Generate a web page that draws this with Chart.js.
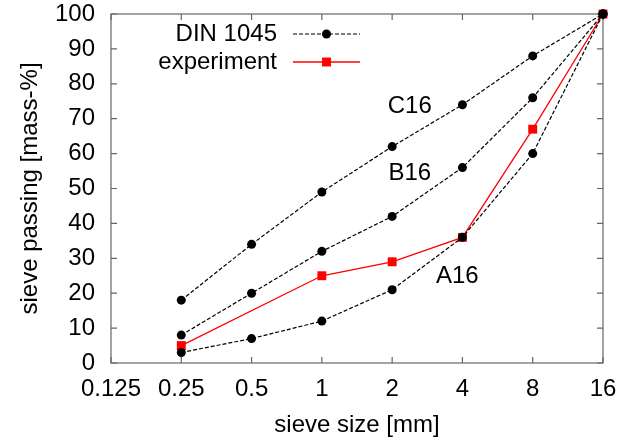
<!DOCTYPE html>
<html>
<head>
<meta charset="utf-8">
<script src="https://cdn.jsdelivr.net/npm/chart.js@4"></script>
<style>
  html, body { margin: 0; padding: 0; background: #fff; }
  #wrap { width: 630px; height: 444px; }
</style>
</head>
<body>
<div id="wrap"><canvas id="chart" width="630" height="444"></canvas></div>
<script>
const sieveSizes = [0.25, 0.5, 1, 2, 4, 8, 16];
const gradeA16 = [3, 7, 12, 21, 36, 60, 100];
const gradeB16 = [8, 20, 32, 42, 56, 76, 100];
const gradeC16 = [18, 34, 49, 62, 74, 88, 100];
const experiment = [5, null, 25, 29, 36, 67, 100];

const xTicks = [0.125, 0.25, 0.5, 1, 2, 4, 8, 16];
const xTickLabels = ["0.125", "0.25", "0.5", "1", "2", "4", "8", "16"];
const yTicks = [0, 10, 20, 30, 40, 50, 60, 70, 80, 90, 100];

const curveLabels = [
  { text: "C16", x: 2.38, y: 73.6 },
  { text: "B16", x: 2.38, y: 54.2 },
  { text: "A16", x: 3.8, y: 24.9 },
];

const FONT = "'Liberation Sans', Arial, sans-serif";
const FONT_SIZE = 24;
const black = "#000000";
const red = "#ff0000";

function points(values) {
  return sieveSizes.map((x, i) => ({ x, y: values[i] }));
}

const dinStyle = {
  borderColor: black,
  backgroundColor: black,
  borderWidth: 1.2,
  borderDash: [4, 2],
  pointStyle: "circle",
  pointRadius: 4.5,
  pointBorderWidth: 0,
  clip: false,
};

const datasets = [
  { label: "C16", data: points(gradeC16), ...dinStyle },
  { label: "B16", data: points(gradeB16), ...dinStyle },
  { label: "A16", data: points(gradeA16), ...dinStyle },
  {
    label: "experiment",
    data: points(experiment),
    borderColor: red,
    backgroundColor: red,
    borderWidth: 1.3,
    pointStyle: "rect",
    pointRadius: 6.3,
    pointBorderWidth: 0,
    spanGaps: true,
    clip: false,
  },
];

// frame with inward ticks on all sides, like the gnuplot original
const framePlugin = {
  id: "frame",
  beforeDatasetsDraw(chart) {
    const { ctx, chartArea: a, scales } = chart;
    ctx.save();
    ctx.strokeStyle = "#666666";
    ctx.lineWidth = 1.2;
    ctx.strokeRect(a.left, a.top, a.right - a.left, a.bottom - a.top);
    ctx.beginPath();
    const len = 6;
    xTicks.forEach((v) => {
      const px = scales.x.getPixelForValue(v);
      ctx.moveTo(px, a.bottom); ctx.lineTo(px, a.bottom - len);
      ctx.moveTo(px, a.top); ctx.lineTo(px, a.top + len);
    });
    yTicks.forEach((v) => {
      const py = scales.y.getPixelForValue(v);
      ctx.moveTo(a.left, py); ctx.lineTo(a.left + len, py);
      ctx.moveTo(a.right, py); ctx.lineTo(a.right - len, py);
    });
    ctx.stroke();
    ctx.restore();
  },
  afterDatasetsDraw(chart) {
    const { ctx, scales, chartArea: a } = chart;
    ctx.save();
    ctx.font = `${FONT_SIZE}px ${FONT}`;
    ctx.fillStyle = black;
    ctx.textAlign = "center";
    ctx.textBaseline = "middle";
    curveLabels.forEach((l) => {
      ctx.fillText(l.text, scales.x.getPixelForValue(l.x), scales.y.getPixelForValue(l.y));
    });

    // legend: text right-aligned, then line sample with marker
    const entries = [
      { text: "DIN 1045", ds: datasets[0] },
      { text: "experiment", ds: datasets[3] },
    ];
    const textRight = a.left + 166;
    const lineStart = a.left + 182;
    const lineEnd = a.left + 249;
    entries.forEach((e, i) => {
      const y = a.top + 20 + i * 28;
      ctx.textAlign = "right";
      ctx.fillStyle = black;
      ctx.fillText(e.text, textRight, y);
      ctx.strokeStyle = e.ds.borderColor;
      ctx.lineWidth = e.ds.borderWidth;
      ctx.setLineDash(e.ds.borderDash || []);
      ctx.beginPath();
      ctx.moveTo(lineStart, y);
      ctx.lineTo(lineEnd, y);
      ctx.stroke();
      ctx.setLineDash([]);
      ctx.fillStyle = e.ds.backgroundColor;
      const mx = (lineStart + lineEnd) / 2;
      if (e.ds.pointStyle === "rect") {
        const s = e.ds.pointRadius * Math.SQRT1_2;
        ctx.fillRect(mx - s, y - s, 2 * s, 2 * s);
      } else {
        ctx.beginPath();
        ctx.arc(mx, y, e.ds.pointRadius, 0, Math.PI * 2);
        ctx.fill();
      }
    });
    ctx.restore();
  },
};

new Chart(document.getElementById("chart"), {
  type: "line",
  data: { datasets },
  plugins: [framePlugin],
  options: {
    responsive: false,
    animation: false,
    layout: { padding: { top: 14, right: 27, left: 0, bottom: 0 } },
    plugins: { legend: { display: false }, tooltip: { enabled: false } },
    scales: {
      x: {
        type: "logarithmic",
        min: 0.125,
        max: 16,
        afterBuildTicks: (scale) => { scale.ticks = xTicks.map((value) => ({ value })); },
        afterFit: (scale) => {
          scale.height = 81;
          scale.paddingLeft = 0;
          scale.paddingRight = 0;
        },
        grid: { display: false, drawTicks: false },
        border: { display: false },
        ticks: {
          autoSkip: false,
          maxRotation: 0,
          padding: 12,
          color: black,
          font: { family: FONT, size: FONT_SIZE },
          callback: (value, index) => xTickLabels[index],
        },
        title: {
          display: true,
          text: "sieve size [mm]",
          color: black,
          font: { family: FONT, size: FONT_SIZE },
          padding: { top: 0, bottom: 4 },
        },
      },
      y: {
        min: 0,
        max: 100,
        afterBuildTicks: (scale) => { scale.ticks = yTicks.map((value) => ({ value })); },
        afterFit: (scale) => {
          scale.width = 111;
          scale.paddingTop = 0;
          scale.paddingBottom = 0;
        },
        grid: { display: false, drawTicks: false },
        border: { display: false },
        ticks: {
          padding: 16,
          color: black,
          font: { family: FONT, size: FONT_SIZE },
        },
        title: {
          display: true,
          text: "sieve passing [mass-%]",
          color: black,
          font: { family: FONT, size: FONT_SIZE },
          padding: { top: 16, bottom: 0 },
        },
      },
    },
  },
});
</script>
</body>
</html>
